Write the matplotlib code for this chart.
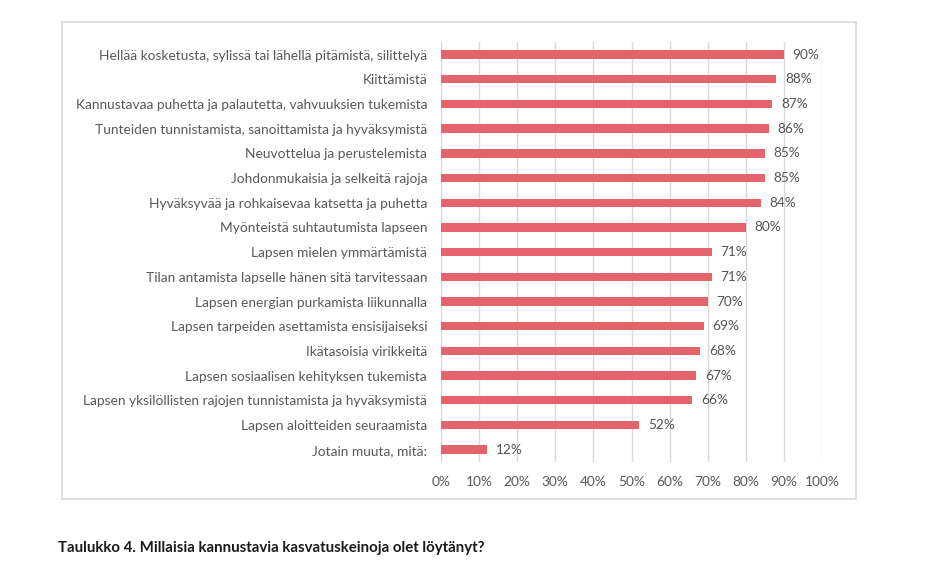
import matplotlib.pyplot as plt
from matplotlib.patches import Rectangle
from matplotlib.ticker import FuncFormatter

plt.rcParams['font.family'] = ['Lato', 'DejaVu Sans']

# --- data ---
categories = [
    'Hellää kosketusta, sylissä tai lähellä pitämistä, silittelyä',
    'Kiittämistä',
    'Kannustavaa puhetta ja palautetta, vahvuuksien tukemista',
    'Tunteiden tunnistamista, sanoittamista ja hyväksymistä',
    'Neuvottelua ja perustelemista',
    'Johdonmukaisia ja selkeitä rajoja',
    'Hyväksyvää ja rohkaisevaa katsetta ja puhetta',
    'Myönteistä suhtautumista lapseen',
    'Lapsen mielen ymmärtämistä',
    'Tilan antamista lapselle hänen sitä tarvitessaan',
    'Lapsen energian purkamista liikunnalla',
    'Lapsen tarpeiden asettamista ensisijaiseksi',
    'Ikätasoisia virikkeitä',
    'Lapsen sosiaalisen kehityksen tukemista',
    'Lapsen yksilöllisten rajojen tunnistamista ja hyväksymistä',
    'Lapsen aloitteiden seuraamista',
    'Jotain muuta, mitä:',
]
values = [90, 88, 87, 86, 85, 85, 84, 80, 71, 71, 70, 69, 68, 67, 66, 52, 12]
x_ticks = [0, 10, 20, 30, 40, 50, 60, 70, 80, 90, 100]
caption = 'Taulukko 4. Millaisia kannustavia kasvatuskeinoja olet löytänyt?'

# --- plot ---
fig = plt.figure(figsize=(9.3, 5.75), dpi=100)

# light frame around the chart area
fig.patches.append(Rectangle((0.0667, 0.1322), 0.8538, 0.8296, transform=fig.transFigure,
                             fill=False, edgecolor='#D9D9D9', linewidth=1.2))

ax = fig.add_axes([0.4742, 0.1965, 0.4097, 0.7300])
ypos = range(len(categories))
ax.barh(ypos, values, height=0.34, color='#E5636A', zorder=3)

for y, v in zip(ypos, values):
    ax.text(v + 2.3, y, f'{v}%', va='center', ha='left', fontsize=9.8, color='#555555')

ax.set_xlim(0, 100)
ax.set_ylim(len(categories) - 0.5, -0.5)
ax.set_xticks(x_ticks)
ax.xaxis.set_major_formatter(FuncFormatter(lambda x, _: f'{x:.0f}%'))
ax.set_yticks(list(ypos))
ax.set_yticklabels(categories)
ax.tick_params(axis='both', length=0, labelsize=9.9, colors='#595959')
ax.tick_params(axis='y', pad=10)
ax.tick_params(axis='x', pad=10)
ax.grid(axis='x', color='#D9D9D9', linewidth=1, zorder=0)
for s in ax.spines.values():
    s.set_visible(False)

fig.text(58 / 930, 1 - 548 / 575, caption, fontsize=10.8, fontweight='bold',
         color='#1a1a1a', ha='left', va='center')

fig.savefig('out.png', dpi=100)
